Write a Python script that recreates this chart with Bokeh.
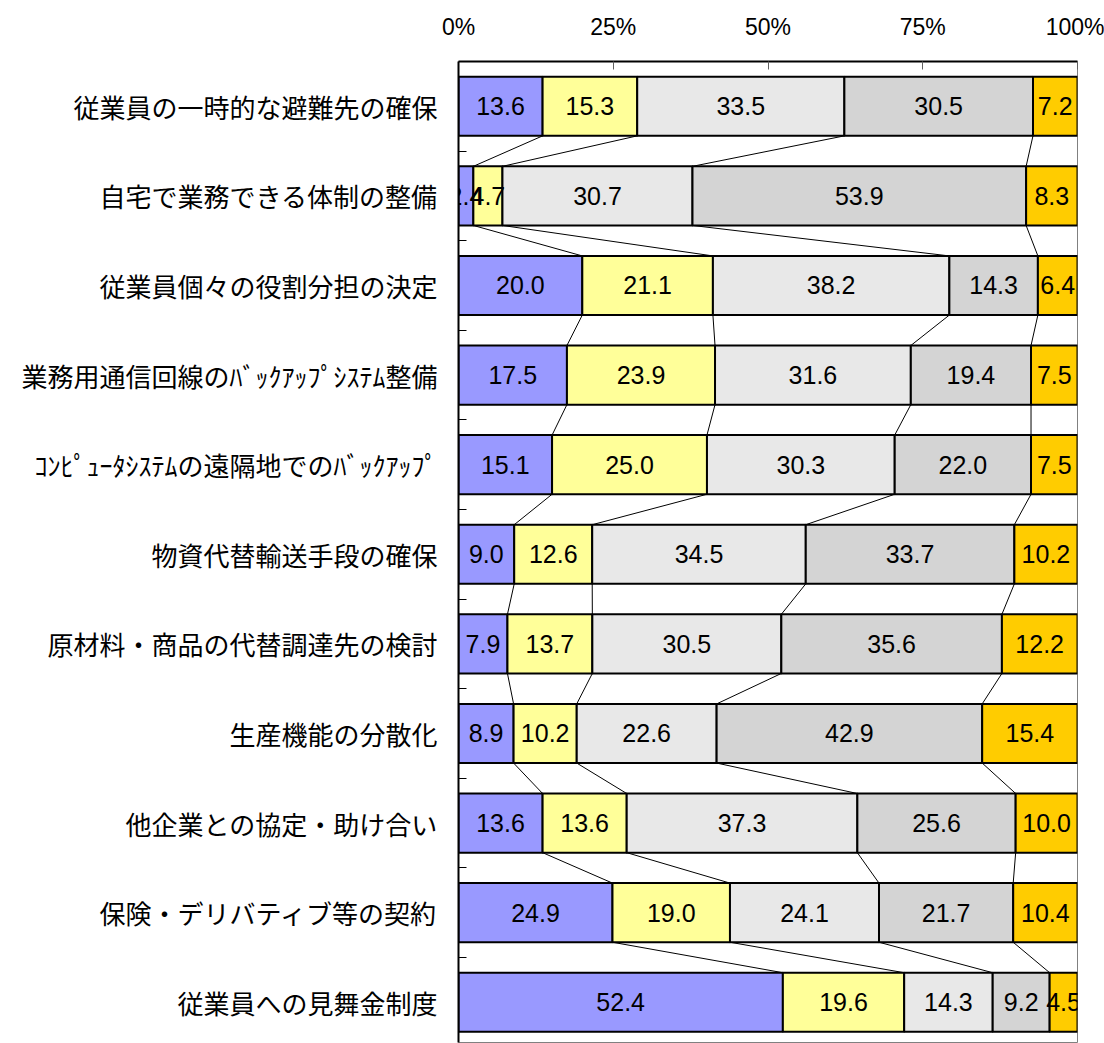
from bokeh.plotting import figure
from bokeh.models import Range1d, FixedTicker, ColumnDataSource, LabelSet
from bokeh.core.properties import value
from bokeh.embed import file_html
from bokeh.resources import INLINE

categories = [
    "従業員の一時的な避難先の確保",
    "自宅で業務できる体制の整備",
    "従業員個々の役割分担の決定",
    "業務用通信回線のﾊﾞｯｸｱｯﾌﾟｼｽﾃﾑ整備",
    "ｺﾝﾋﾟｭｰﾀｼｽﾃﾑの遠隔地でのﾊﾞｯｸｱｯﾌﾟ",
    "物資代替輸送手段の確保",
    "原材料・商品の代替調達先の検討",
    "生産機能の分散化",
    "他企業との協定・助け合い",
    "保険・デリバティブ等の契約",
    "従業員への見舞金制度",
]
s1 = [13.6, 2.4, 20.0, 17.5, 15.1, 9.0, 7.9, 8.9, 13.6, 24.9, 52.4]
s2 = [15.3, 4.7, 21.1, 23.9, 25.0, 12.6, 13.7, 10.2, 13.6, 19.0, 19.6]
s3 = [33.5, 30.7, 38.2, 31.6, 30.3, 34.5, 30.5, 22.6, 37.3, 24.1, 14.3]
s4 = [30.5, 53.9, 14.3, 19.4, 22.0, 33.7, 35.6, 42.9, 25.6, 21.7, 9.2]
s5 = [7.2, 8.3, 6.4, 7.5, 7.5, 10.2, 12.2, 15.4, 10.0, 10.4, 4.5]
x_ticks = [0, 25, 50, 75, 100]
x_tick_labels = ["0%", "25%", "50%", "75%", "100%"]

series = [s1, s2, s3, s4, s5]
colors = ["#9999FF", "#FFFF99", "#E8E8E8", "#D4D4D4", "#FFCC00"]

n = len(categories)
centers = [i + 0.5 for i in range(n)]
bar_h = 0.66

# cumulative (normalized to 100%)
totals = [sum(s[i] for s in series) for i in range(n)]
cum = [[0.0] * n]
for s in series:
    prev = cum[-1]
    cum.append([prev[i] + s[i] / totals[i] * 100.0 for i in range(n)])

p = figure(width=1104, height=1043, output_backend="svg", toolbar_location=None,
           x_range=Range1d(0, 100), y_range=Range1d(10.949, 0),
           x_axis_location="above", min_border_left=458, min_border_right=27,
           min_border_top=61, min_border_bottom=1)
p.background_fill_color = "white"
p.border_fill_color = "white"
p.outline_line_color = "#808080"
p.outline_line_width = 1
p.xgrid.visible = False
p.ygrid.visible = False

# series lines
x0, y0, x1, y1 = [], [], [], []
for j in range(1, 5):
    for i in range(n - 1):
        x0.append(cum[j][i]); y0.append(centers[i] + bar_h / 2)
        x1.append(cum[j][i + 1]); y1.append(centers[i + 1] - bar_h / 2)
p.segment(x0=x0, y0=y0, x1=x1, y1=y1, line_color="black", line_width=1)

for k, s in enumerate(series):
    left = cum[k]
    right = cum[k + 1]
    src = ColumnDataSource(dict(y=centers, left=left, right=right,
                                mid=[(a + b) / 2 for a, b in zip(left, right)],
                                lab=["%.1f" % v for v in s]))
    p.hbar(y="y", left="left", right="right", height=bar_h, source=src,
           fill_color=colors[k], line_color="black", line_width=2)
    labels = LabelSet(x="mid", y="y", text="lab", source=src, text_align="center",
                      text_baseline="middle", text_font=value("Liberation Sans"),
                      text_font_size=value("25px"), text_color="black")
    p.add_layout(labels)

xa = p.xaxis[0]
xa.ticker = FixedTicker(ticks=x_ticks)
xa.major_label_overrides = {t: l for t, l in zip(x_ticks, x_tick_labels)}
xa.major_tick_in = 8
xa.major_tick_out = 0
xa.minor_tick_in = 0
xa.minor_tick_out = 0
xa.axis_line_color = "black"
xa.axis_line_width = 2
xa.major_tick_line_color = "#606060"
xa.major_label_text_font = "Liberation Sans"
xa.major_label_text_font_size = "23px"
xa.major_label_text_color = "black"
xa.major_label_standoff = 22

ya = p.yaxis[0]
ya.ticker = FixedTicker(ticks=centers, minor_ticks=[float(i) for i in range(1, n)])
ya.major_label_overrides = {c: lab for c, lab in zip(centers, categories)}
ya.major_tick_in = 0
ya.major_tick_out = 0
ya.minor_tick_in = 8
ya.minor_tick_out = 0
ya.minor_tick_line_color = "black"
ya.axis_line_color = "black"
ya.axis_line_width = 2
ya.major_label_text_font = "Noto Sans CJK JP"
ya.major_label_text_font_size = "26px"
ya.major_label_text_color = "black"
ya.major_label_standoff = 21

open("out.html", "w").write(file_html(p, INLINE))
